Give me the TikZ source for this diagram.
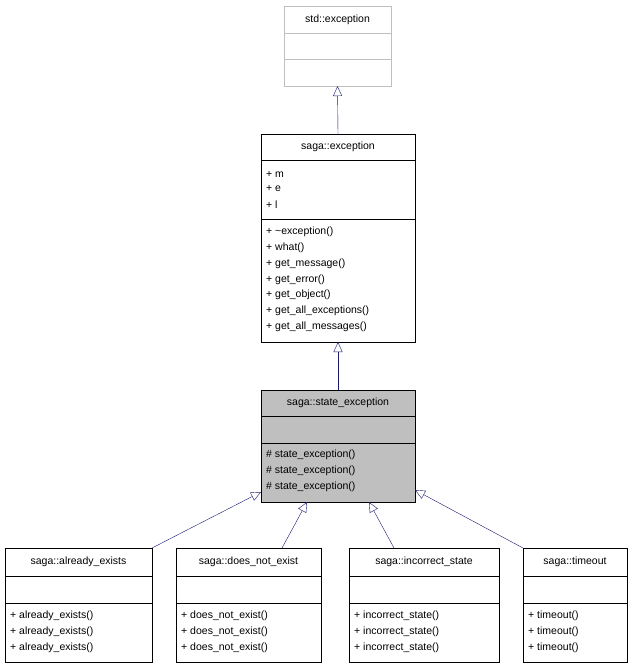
\documentclass[tikz,border=0pt]{standalone}
\usepackage{fontspec}
\setmainfont{Liberation Sans}
\usetikzlibrary{arrows.meta}
\definecolor{edgeblue}{RGB}{25,25,112}
\definecolor{classgray}{RGB}{191,191,191}
\tikzset{
  box/.style={draw=black, inner sep=0pt, outer sep=0pt},
  txt/.style={anchor=west, inner sep=0pt, font=\fontsize{10.5}{12}\selectfont},
  ttl/.style={inner sep=0pt, font=\fontsize{10.5}{12}\selectfont},
  inh/.style={draw=edgeblue, -{Triangle[open, length=10pt, width=9pt, fill=white]}}
}
\begin{document}
\begin{tikzpicture}[x=1pt, y=-1pt]
    \useasboundingbox (0,0) rectangle (632,667);
    % std::exception
    \node[box, draw=lightgray, minimum width=107pt, minimum height=80pt] (std) at (337.5,46) {};
    \draw[lightgray] (284,33) -- (391,33);
    \draw[lightgray] (284,59) -- (391,59);
    \node[ttl] at (337.5,20) {std::exception};

    % saga::exception
    \node[box, minimum width=154pt, minimum height=208pt] (exc) at (338,238) {};
    \draw (261,160) -- (415,160);
    \draw (261,219) -- (415,219);
    \node[ttl] at (338,147) {saga::exception};
    \node[txt] at (266,174) {+ m};
    \node[txt] at (266,189) {+ e};
    \node[txt] at (266,205) {+ l};
    \foreach \t [count=\i from 0] in {\textasciitilde exception(), what(), get\_message(), get\_error(), get\_object(), get\_all\_exceptions(), get\_all\_messages()}
        \node[txt] at (266,232+15.8*\i) {+ \t};

    % saga::state_exception
    \node[box, fill=classgray, minimum width=154pt, minimum height=112pt] (state) at (338,446) {};
    \draw (261,416) -- (415,416);
    \draw (261,443) -- (415,443);
    \node[ttl] at (338,403) {saga::state\_exception};
    \foreach \i in {0,1,2}
        \node[txt] at (266,455+16*\i) {\# state\_exception()};

    % derived classes
    \foreach \n/\l/\r/\t in {already/5/152/already\_exists, doesnot/176/321/does\_not\_exist, incorrect/349/499/incorrect\_state, timeout/523/627/timeout} {
        \node[box, minimum width={\r-\l}, minimum height=114pt] (\n) at ({(\l+\r)/2},605) {};
        \draw (\l,576) -- (\r,576);
        \draw (\l,603) -- (\r,603);
        \node[ttl] at ({(\l+\r)/2},562) {saga::\t};
        \foreach \i in {0,1,2}
            \node[txt] at (\l+5,616+16*\i) {+ \t()};
    }

    % inheritance
    \coordinate (sw) at (261,492);
    \coordinate (se) at (415,490);
    \coordinate (sb1) at (307,502);
    \coordinate (sb2) at (369,502);
    \draw[inh] (exc.north) -- (std.south);
    \draw[inh] (state.north) -- (exc.south);
    \draw[inh] (already.north east) -- (sw);
    \draw[inh] ([xshift=106pt]doesnot.north west) -- (sb1);
    \draw[inh] ([xshift=45pt]incorrect.north west) -- (sb2);
    \draw[inh] (timeout.north west) -- (se);
\end{tikzpicture}
\end{document}
